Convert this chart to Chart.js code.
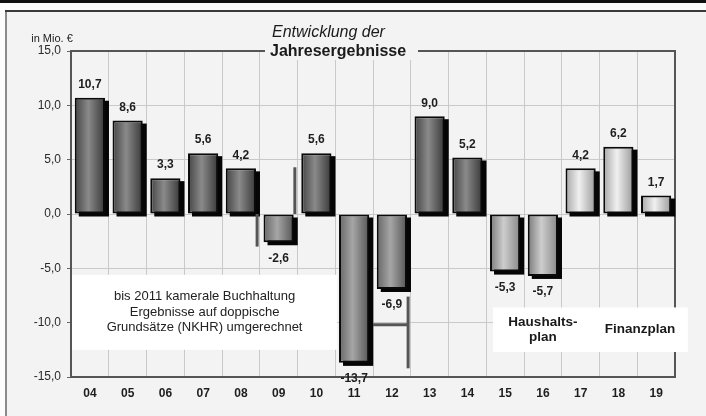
<!DOCTYPE html>
<html>
<head>
<meta charset="utf-8">
<script src="https://cdn.jsdelivr.net/npm/chart.js@4.4.1/dist/chart.umd.min.js"></script>
<style>
  html, body { margin: 0; padding: 0; width: 706px; height: 416px; overflow: hidden; background: #fcfcfc; }
  #panel { position: absolute; left: 5px; top: 10px; width: 701px; height: 406px; background: #f3f3f3;
           border-left: 2px solid #8a8a8a; box-sizing: border-box; }
  #topbar { position: absolute; left: 0; top: 0; width: 706px; height: 3px; background: #111; }
  #rule { position: absolute; left: 5px; top: 10px; width: 701px; height: 2px; background: #3a3a3a; }
  #wrap { position: absolute; left: 0; top: 0; width: 706px; height: 416px; }
</style>
</head>
<body>
<div id="panel"></div>
<div id="topbar"></div>
<div id="rule"></div>
<div id="wrap"><canvas id="chart" width="706" height="416"></canvas></div>
<script>
// Jahresergebnisse in Mio. € (Jahre 2004-2019)
const years = ['04', '05', '06', '07', '08', '09', '10', '11', '12', '13', '14', '15', '16', '17', '18', '19'];
const results = [10.7, 8.6, 3.3, 5.6, 4.2, -2.6, 5.6, -13.7, -6.9, 9.0, 5.2, -5.3, -5.7, 4.2, 6.2, 1.7];
// Planungsstufe je Jahr: Ergebnis, Haushaltsplan, Finanzplan
const stage = ['ist', 'ist', 'ist', 'ist', 'ist', 'ist', 'ist', 'ist', 'ist', 'ist', 'ist',
               'haushalt', 'haushalt', 'finanz', 'finanz', 'finanz'];
const yMin = -15, yMax = 15, yStep = 5;

const FONT = "'Liberation Sans', Arial, sans-serif";
const BAR_PCT = 0.8;
const SHADOW_DX = 4, SHADOW_DY = 3;
const fmt = v => v.toFixed(1).replace('.', ',');

// Grauverlauf je Planungsstufe (Rand, Mitte, Rand)
const tones = {
  istPos:   ['#444444', '#8a8a8a', '#383838'],
  istNeg:   ['#666666', '#a6a6a6', '#555555'],
  haushalt: ['#7a7a7a', '#cdcdcd', '#888888'],
  finanz:   ['#a6a6a6', '#f0f0f0', '#9a9a9a']
};
function toneFor(i) {
  if (stage[i] === 'ist') return results[i] < 0 ? tones.istNeg : tones.istPos;
  return tones[stage[i]];
}
function barFill(ctx) {
  const chart = ctx.chart, xs = chart.scales.x;
  if (ctx.dataIndex === undefined || !xs || !chart.chartArea) return '#888';
  const i = ctx.dataIndex;
  const cx = xs.getPixelForValue(i);
  const half = xs.width / years.length * BAR_PCT / 2;
  const g = chart.ctx.createLinearGradient(cx - half, 0, cx + half, 0);
  const t = toneFor(i);
  g.addColorStop(0, t[0]);
  g.addColorStop(0.45, t[1]);
  g.addColorStop(1, t[2]);
  return g;
}

// Kleine Trennstriche im Diagramm (in Achsenwerten)
const dividerLines = [
  { x0: 4.43, x1: 4.43, y0: 0, y1: -3.0 },
  { x0: 5.43, x1: 5.43, y0: 4.3, y1: 0 },
  { x0: 8.43, x1: 8.43, y0: -7.6, y1: -14.2 },
  { x0: 7.5, x1: 8.43, y0: -10.2, y1: -10.2 }
];

// Rahmen oben/rechts, Titel und Hinweiskästen
const framePlugin = {
  id: 'frame',
  beforeDatasetsDraw(chart) {
    const { ctx, chartArea: a, scales: { x, y } } = chart;
    ctx.save();
    ctx.strokeStyle = '#555';
    ctx.lineWidth = 2;
    ctx.beginPath();
    ctx.moveTo(a.left, a.top);
    ctx.lineTo(a.right, a.top);
    ctx.lineTo(a.right, a.bottom);
    ctx.stroke();

    // Titel
    ctx.fillStyle = '#f3f3f3';
    ctx.fillRect(265, 44, 153, 16);
    ctx.fillStyle = '#1a1a1a';
    ctx.textBaseline = 'middle';
    ctx.textAlign = 'left';
    ctx.font = 'italic 16px ' + FONT;
    ctx.fillText('Entwicklung der', 272, 33);
    ctx.font = 'bold 16px ' + FONT;
    ctx.fillText('Jahresergebnisse', 270, 52);

    // Einheit
    ctx.font = '11px ' + FONT;
    ctx.textAlign = 'center';
    ctx.fillStyle = '#222';
    ctx.fillText('in Mio. €', 52, 39);

    // Hinweis kamerale Buchhaltung
    const b1x0 = x.getPixelForValue(-0.5) + 1, b1x1 = x.getPixelForValue(6.55);
    const b1y0 = y.getPixelForValue(-5.6), b1y1 = y.getPixelForValue(-12.5);
    ctx.fillStyle = '#ffffff';
    ctx.fillRect(b1x0, b1y0, b1x1 - b1x0, b1y1 - b1y0);
    ctx.fillStyle = '#222';
    ctx.font = '13px ' + FONT;
    const cx1 = (b1x0 + b1x1) / 2;
    const midY1 = (b1y0 + b1y1) / 2;
    ctx.fillText('bis 2011 kamerale Buchhaltung', cx1, midY1 - 15.5);
    ctx.fillText('Ergebnisse auf doppische', cx1, midY1);
    ctx.fillText('Grundsätze (NKHR) umgerechnet', cx1, midY1 + 15.5);

    // Haushaltsplan / Finanzplan
    const b2x0 = x.getPixelForValue(10.68), b2x1 = x.getPixelForValue(15.84);
    const b2y0 = y.getPixelForValue(-8.6), b2y1 = y.getPixelForValue(-12.7);
    ctx.fillStyle = '#ffffff';
    ctx.fillRect(b2x0, b2y0, b2x1 - b2x0, b2y1 - b2y0);
    ctx.fillStyle = '#1a1a1a';
    ctx.font = 'bold 13.5px ' + FONT;
    const hx = x.getPixelForValue(12.0);
    const fx = x.getPixelForValue(14.57);
    const midY2 = (b2y0 + b2y1) / 2;
    ctx.fillText('Haushalts-', hx, midY2 - 7.5);
    ctx.fillText('plan', hx, midY2 + 7.5);
    ctx.fillText('Finanzplan', fx, midY2);
    ctx.restore();
  }
};

// Schlagschatten der Balken (rechts unten versetzt)
const shadowPlugin = {
  id: 'barShadow',
  beforeDatasetDraw(chart, args) {
    const c = chart.ctx;
    const meta = chart.getDatasetMeta(args.index);
    c.save();
    c.fillStyle = '#050505';
    meta.data.forEach(el => {
      const left = el.x - el.width / 2;
      const top = Math.min(el.y, el.base);
      const h = Math.abs(el.y - el.base);
      c.fillRect(left + SHADOW_DX, top + SHADOW_DY, el.width, h);
    });
    c.restore();
  }
};

// Wertbeschriftungen und Trennstriche
const labelPlugin = {
  id: 'valueLabels',
  afterDatasetsDraw(chart) {
    const { ctx, scales: { x, y } } = chart;
    ctx.save();
    ctx.strokeStyle = '#555';
    ctx.lineWidth = 3;
    dividerLines.forEach(d => {
      ctx.beginPath();
      ctx.moveTo(x.getPixelForValue(d.x0), y.getPixelForValue(d.y0));
      ctx.lineTo(x.getPixelForValue(d.x1), y.getPixelForValue(d.y1));
      ctx.stroke();
    });

    ctx.font = 'bold 12px ' + FONT;
    ctx.fillStyle = '#1e1e1e';
    ctx.textAlign = 'center';
    ctx.textBaseline = 'middle';
    const meta = chart.getDatasetMeta(0);
    meta.data.forEach((el, i) => {
      const v = results[i];
      const ty = v >= 0 ? el.y - 13 : el.y + 16;
      ctx.fillText(fmt(v), el.x, ty);
    });
    ctx.restore();
  }
};

new Chart(document.getElementById('chart'), {
  type: 'bar',
  data: {
    labels: years,
    datasets: [{
      data: results,
      backgroundColor: barFill,
      borderColor: '#0a0a0a',
      borderWidth: 2,
      borderSkipped: false,
      barPercentage: BAR_PCT,
      categoryPercentage: 1
    }]
  },
  options: {
    responsive: false,
    animation: false,
    devicePixelRatio: 1,
    layout: { padding: { left: 0, top: 51, right: 31, bottom: 0 } },
    plugins: { legend: { display: false }, tooltip: { enabled: false }, title: { display: false } },
    scales: {
      x: {
        grid: { color: '#c9c9c9', lineWidth: 1, offset: true, drawTicks: false, tickLength: 0 },
        border: { color: '#555', width: 2 },
        ticks: { font: { family: FONT, size: 12, weight: 'bold' }, color: '#1e1e1e', padding: 9,
                 autoSkip: false, maxRotation: 0 },
        afterFit(s) { s.height = 39; }
      },
      y: {
        min: yMin, max: yMax,
        ticks: { stepSize: yStep, callback: v => fmt(v), font: { family: FONT, size: 12 },
                 color: '#2a2a2a', padding: 6 },
        grid: { color: '#c9c9c9', lineWidth: 1, tickLength: 4, tickColor: '#666' },
        border: { color: '#555', width: 2 },
        afterFit(s) { s.width = 71; }
      }
    }
  },
  plugins: [framePlugin, shadowPlugin, labelPlugin]
});
</script>
</body>
</html>
